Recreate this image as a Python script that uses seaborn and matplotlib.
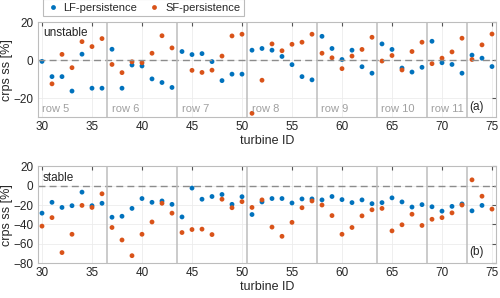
import numpy as np
import pandas as pd
import matplotlib.pyplot as plt
import seaborn as sns

turbines = list(range(30, 76))

# unstable conditions, crps skill score [%]
lf_unstable = [-0.7, -8.7, -8.7, -16.3, 3.1, -14.8, -14.8, 5.7, -14.8, -2.6,
               -3.1, -9.9, -11.8, -14.4, 4.5, 2.9, 3.4, -0.8, -10.8, -7.4,
               -7.4, 5.2, 6.1, 5.2, 1.9, -2.4, -8.7, -10.4, 12.5, 6.1,
               0.3, 5.2, -3.5, -6.9, 8.5, 5.6, -4.2, -6.3, -3.8, 9.9,
               -1.4, -2.3, -6.9, 2.6, 1.0, -3.4]
sf_unstable = [np.nan, -12.5, 3.0, -4.0, 9.7, 7.1, 11.3, -2.3, -6.6, -0.9,
               -1.4, 3.6, 12.8, 6.4, np.nan, -5.4, -6.5, -5.3, 2.1, 12.7,
               13.6, -28.0, -10.6, 8.5, 4.9, 8.3, 9.4, 13.6, 3.6, 1.2,
               -4.5, 2.1, 5.6, 12.0, -0.5, 2.4, -5.2, 4.5, 9.4, -1.9,
               1.0, 4.3, 11.5, 0.3, 8.0, 13.7]

# stable conditions
lf_stable = [-28.4, -17.2, -22.5, -20.7, -6.7, -20.7, -18.2, -32.6, -31.6, -23.5,
             -13.3, -17.2, -15.8, -19.3, -32.3, -2.5, -14.0, -11.2, -9.1, -19.3,
             -11.4, -29.8, -16.8, -13.3, -13.3, -17.9, -13.7, -13.7, -14.7, -11.2,
             -14.4, -17.5, -14.7, -18.6, -17.5, -12.6, -16.8, -22.1, -19.6, -21.8,
             -26.3, -21.4, -18.9, -26.0, -20.4, np.nan]
sf_stable = [-41.8, -33.0, -69.1, -50.2, -20.4, -22.5, -8.4, -43.2, -56.1, -72.3,
             -50.2, -37.5, -18.2, -28.4, -48.4, -45.3, -44.9, -50.5, -14.0, -22.8,
             -16.5, -22.5, -14.7, -42.8, -52.3, -37.9, -22.8, -15.8, -20.0, -30.9,
             -50.2, -43.2, -31.2, -24.9, -23.5, -46.7, -40.4, -29.5, -41.1, -34.7,
             -33.0, -28.1, -20.0, 6.0, -10.9, -24.2]

row_edges = [36.5, 43.5, 50.5, 57.5, 63.5, 68.5, 72.5]
row_names = ['row 5', 'row 6', 'row 7', 'row 8', 'row 9', 'row 10', 'row 11']

blue = '#0072BD'
orange = '#D95319'

sns.set_style('white')
plt.rcParams['font.family'] = ['Liberation Sans', 'DejaVu Sans']

fig = plt.figure(figsize=(5.0, 2.98), dpi=100)
ax1 = fig.add_axes([0.075, 0.607, 0.917, 0.319])
ax2 = fig.add_axes([0.075, 0.117, 0.917, 0.325])


def draw_panel(ax, lf, sf, ylim, yticks, cond, tag, tag_y, cond_y, rows=True):
    df = pd.DataFrame({'turbine': turbines * 2,
                       'ss': lf + sf,
                       'model': ['LF-persistence'] * len(lf) + ['SF-persistence'] * len(sf)})
    sns.scatterplot(data=df, x='turbine', y='ss', hue='model',
                    palette=[blue, orange], s=12, linewidth=0, ax=ax, legend=rows)
    ax.axhline(0, color='#8c8c8c', ls=(0, (5, 3)), lw=1, zorder=1)
    for e in row_edges:
        ax.axvline(e, color='#bdbdbd', lw=1.1, zorder=1)
    ax.set_xlim(29.55, 75.4)
    ax.set_ylim(*ylim)
    ax.set_xticks(range(30, 76, 5))
    ax.set_yticks(yticks)
    ax.grid(True, color='#ececec', lw=0.6)
    ax.set_axisbelow(True)
    ax.tick_params(direction='in', top=True, right=True, length=3,
                   color='#555555', labelcolor='#262626', pad=3, labelsize=8.5)
    for s in ax.spines.values():
        s.set_color('#bdbdbd')
        s.set_linewidth(0.8)
    ax.set_xlabel('turbine ID', color='#262626', fontsize=9, labelpad=1)
    ax.set_ylabel('crps ss [%]', color='#262626', fontsize=9, labelpad=0)
    ax.text(30.1, cond_y, cond, fontsize=8.5, color='#262626', va='center')
    ax.text(72.7, tag_y, tag, fontsize=8.5, color='#262626', va='center')
    if rows:
        starts = [29.6] + row_edges[:-1]
        for st, nm in zip(starts, row_names):
            ax.text(st + 0.45, -25.5, nm, fontsize=8, color='#a0a0a0', va='center')


draw_panel(ax1, lf_unstable, sf_unstable, (-30, 20), [-20, 0, 20],
           'unstable', '(a)', -24.5, 14.5)
draw_panel(ax2, lf_stable, sf_stable, (-80, 20), [-80, -60, -40, -20, 0, 20],
           'stable', '(b)', -68, 7.5, rows=False)

handles, labels = ax1.get_legend_handles_labels()
ax1.legend(handles, labels, ncol=2, loc='lower left', bbox_to_anchor=(0.0, 1.0),
           frameon=True, fontsize=8, handlelength=1.0, handletextpad=0.5,
           columnspacing=1.0, borderpad=0.35, edgecolor='#aaaaaa',
           fancybox=False, markerscale=1.0)
ax1.get_legend().get_frame().set_linewidth(0.8)

fig.savefig('out.png', dpi=100)
